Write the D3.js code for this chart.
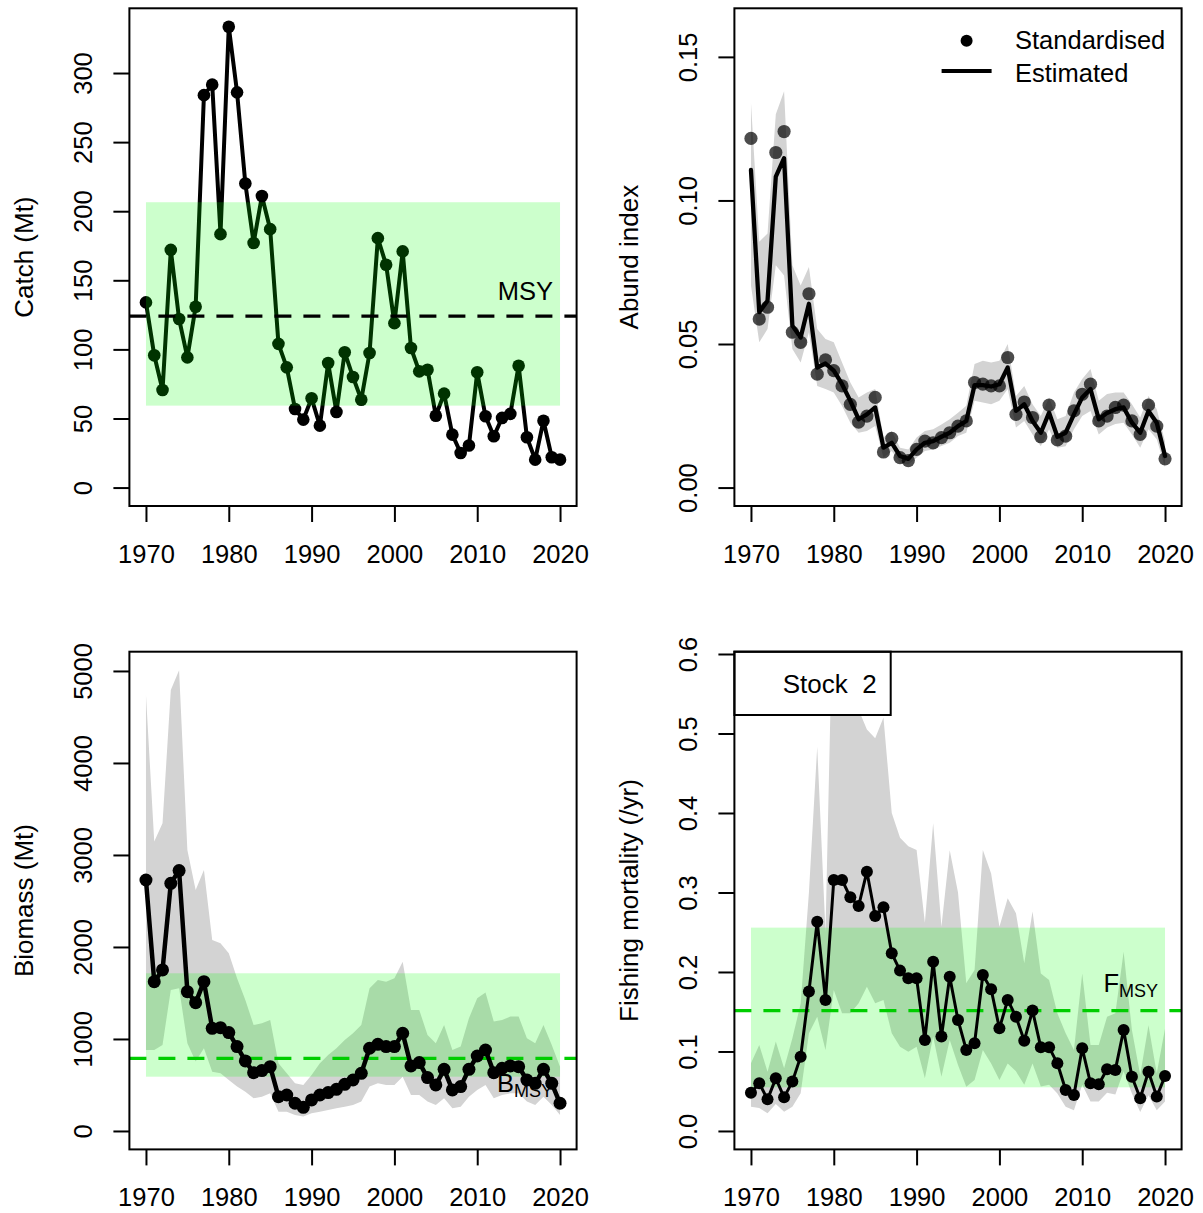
<!DOCTYPE html>
<html>
<head>
<meta charset="utf-8">
<script src="https://cdn.jsdelivr.net/npm/d3@7"></script>
<style>
  html, body { margin: 0; padding: 0; background: #fff; }
  svg { display: block; font-family: "Liberation Sans", Arial, Helvetica, sans-serif; }
</style>
</head>
<body>
<svg id="chart" width="1203" height="1213"></svg>
<script>
// ---- Data ---------------------------------------------------------------
const years = d3.range(1970, 2021);
const yearTicks = [1970, 1980, 1990, 2000, 2010, 2020];
const catchTicks = [0, 50, 100, 150, 200, 250, 300];
const indexTicks = [0, 0.05, 0.10, 0.15];
const biomassTicks = [0, 1000, 2000, 3000, 4000, 5000];
const fTicks = [0, 0.1, 0.2, 0.3, 0.4, 0.5, 0.6];

// Catch (Mt)
const catchMt = [
  134, 95.7, 70.6, 172, 122, 94.2, 130.9, 284, 291.6, 183.4,
  333.5, 286, 220, 177, 211, 187, 104, 87, 56.9, 49.2,
  64.6, 44.8, 90.1, 54.7, 97.9, 80, 63.6, 97.4, 180.5, 161.2,
  119, 170.9, 101, 84.1, 85.3, 52, 68, 38.3, 25, 30.4,
  83.4, 51.6, 37.1, 50.4, 53.3, 88.2, 36.4, 20.2, 48.4, 21.9,
  20.2
];
const msy = 124, msyLo = 59.3, msyHi = 206.5;

// Abundance index: standardised observations and model estimate with interval
const indexObs = [
  0.1216, 0.0587, 0.0628, 0.1167, 0.1240, 0.0541, 0.0506, 0.0675, 0.0395, 0.0445,
  0.0407, 0.0354, 0.0290, 0.0228, 0.0249, 0.0314, 0.0124, 0.0171, 0.0104, 0.0094,
  0.0133, 0.0162, 0.0156, 0.0174, 0.0191, 0.0214, 0.0232, 0.0366, 0.0360, 0.0354,
  0.0354, 0.0453, 0.0255, 0.0298, 0.0244, 0.0177, 0.0287, 0.0166, 0.0179, 0.0267,
  0.0325, 0.0360, 0.0232, 0.0249, 0.0279, 0.0287, 0.0232, 0.0185, 0.0287, 0.0214,
  0.0100
];
const indexEst = [
  0.1106, 0.0611, 0.0651, 0.1083, 0.1147, 0.0564, 0.0523, 0.0640, 0.0418, 0.0432,
  0.0407, 0.0360, 0.0302, 0.0238, 0.0255, 0.0279, 0.0139, 0.0156, 0.0110, 0.0100,
  0.0133, 0.0156, 0.0162, 0.0177, 0.0191, 0.0214, 0.0232, 0.0357, 0.0357, 0.0352,
  0.0360, 0.0418, 0.0267, 0.0290, 0.0232, 0.0191, 0.0261, 0.0177, 0.0191, 0.0255,
  0.0314, 0.0343, 0.0238, 0.0260, 0.0273, 0.0279, 0.0226, 0.0191, 0.0267, 0.0226,
  0.0110
];
const indexHi = [
  0.134, 0.0856, 0.0885, 0.130, 0.138, 0.0774, 0.0704, 0.0768, 0.0552, 0.0517,
  0.0506, 0.0436, 0.0366, 0.0314, 0.0331, 0.0343, 0.0174, 0.0197, 0.0139, 0.0133,
  0.0174, 0.0197, 0.0203, 0.0220, 0.0238, 0.0261, 0.0285, 0.0430, 0.0442, 0.0436,
  0.0442, 0.0500, 0.0319, 0.0354, 0.0290, 0.0249, 0.0314, 0.0238, 0.0249, 0.0331,
  0.0378, 0.0413, 0.0302, 0.0326, 0.0331, 0.0331, 0.0290, 0.0244, 0.0319, 0.0273,
  0.0160
];
const indexLo = [
  0.0704, 0.0506, 0.0552, 0.0774, 0.0739, 0.0483, 0.0436, 0.0541, 0.0354, 0.0343,
  0.0331, 0.0284, 0.0226, 0.0191, 0.0197, 0.0214, 0.0104, 0.0127, 0.0086, 0.0080,
  0.0104, 0.0127, 0.0133, 0.0145, 0.0156, 0.0180, 0.0191, 0.0302, 0.0296, 0.0290,
  0.0302, 0.0343, 0.0209, 0.0232, 0.0185, 0.0144, 0.0203, 0.0139, 0.0144, 0.0203,
  0.0249, 0.0267, 0.0185, 0.0209, 0.0221, 0.0226, 0.0185, 0.0139, 0.0203, 0.0168,
  0.0070
];

// Biomass (Mt)
const biomass = [
  2728, 1623, 1750, 2692, 2830, 1514, 1395, 1623, 1116, 1123,
  1069, 917, 761, 634, 656, 699, 373, 391, 301, 257,
  337, 391, 417, 453, 507, 554, 627, 899, 942, 917,
  917, 1062, 707, 743, 580, 500, 670, 446, 482, 670,
  815, 880, 634, 681, 707, 699, 554, 518, 670, 518,
  301
];
const biomassHi = [
  4739, 3145, 3344, 4793, 5009, 3054, 2620, 2837, 2076, 2040,
  1932, 1660, 1424, 1152, 1170, 1207, 736, 627, 518, 500,
  609, 736, 826, 899, 989, 1062, 1152, 1551, 1641, 1623,
  1660, 1840, 1315, 1315, 1043, 953, 1152, 880, 917, 1225,
  1442, 1504, 1189, 1207, 1243, 1243, 1007, 953, 1152, 935,
  699
];
const biomassLo = [
  880, 880, 935, 1533, 1551, 953, 754, 899, 645, 627,
  554, 482, 427, 355, 373, 409, 210, 210, 174, 156,
  192, 210, 228, 247, 264, 282, 319, 482, 518, 500,
  500, 590, 391, 391, 319, 282, 355, 247, 264, 373,
  446, 500, 355, 391, 409, 409, 319, 282, 373, 282,
  174
];
const bmsy = 790, bmsyLo = 590, bmsyHi = 1714;

// Fishing mortality (/yr)
const fMort = [
  0.0482, 0.0600, 0.0398, 0.0662, 0.0423, 0.0621, 0.0935, 0.1753, 0.2633, 0.1648,
  0.3157, 0.3157, 0.2939, 0.2830, 0.3262, 0.2704, 0.2813, 0.2235, 0.2017, 0.1920,
  0.1920, 0.1145, 0.2130, 0.1187, 0.1941, 0.1396, 0.1019, 0.1103, 0.1962, 0.1782,
  0.1291, 0.1648, 0.1438, 0.1136, 0.1514, 0.1052, 0.1052, 0.0851, 0.0516, 0.0453,
  0.1040, 0.0600, 0.0587, 0.0776, 0.0768, 0.1270, 0.0683, 0.0411, 0.0746, 0.0432,
  0.0692
];
const fMortHi = [
  0.0852, 0.1082, 0.0746, 0.1124, 0.0788, 0.1166, 0.160, 0.300, 0.4834, 0.250,
  0.720, 0.850, 0.750, 0.530, 0.505, 0.494, 0.520, 0.400, 0.369, 0.358,
  0.3535, 0.262, 0.387, 0.257, 0.353, 0.300, 0.186, 0.2025, 0.3535, 0.324,
  0.257, 0.2927, 0.274, 0.211, 0.276, 0.198, 0.190, 0.148, 0.123, 0.102,
  0.198, 0.108, 0.108, 0.1438, 0.148, 0.2256, 0.127, 0.0704, 0.133, 0.0726,
  0.129
];
const fMortLo = [
  0.0306, 0.0290, 0.0222, 0.0340, 0.0243, 0.0306, 0.0474, 0.1229, 0.1438, 0.1019,
  0.1774, 0.1480, 0.1480, 0.1606, 0.1815, 0.1606, 0.1648, 0.1229, 0.1060, 0.0998,
  0.1060, 0.0663, 0.1187, 0.0683, 0.1145, 0.0830, 0.0557, 0.0641, 0.1020, 0.0850,
  0.0640, 0.0850, 0.0750, 0.0580, 0.0850, 0.0560, 0.0580, 0.0470, 0.0306, 0.0260,
  0.0580, 0.0370, 0.0370, 0.0480, 0.0460, 0.0750, 0.0470, 0.0240, 0.0450, 0.0260,
  0.0370
];
const fmsy = 0.1514, fmsyLo = 0.0549, fmsyHi = 0.2558;

// ---- Layout & helpers ---------------------------------------------------
const svg = d3.select("#chart");
const FONT = 25.5;
const GREEN_FILL = "rgba(0,255,0,0.2)";
const GREEN_LINE = "#00CD00";
const GREY_FILL = "#D3D3D3";

const rows = (vals) => years.map((yr, i) => ({ year: yr, v: vals[i] }));
const bandRows = (lo, hi) => years.map((yr, i) => ({ year: yr, lo: lo[i], hi: hi[i] }));

let clipCount = 0;
function makePanel(box, ylim, yticks, yfmt, title) {
  const g = svg.append("g");
  // R-style axis ranges: data limits padded by 4% on each side
  const xr = [1970, 2020], xp = 0.04 * (xr[1] - xr[0]);
  const yp = 0.04 * (ylim[1] - ylim[0]);
  const x = d3.scaleLinear().domain([xr[0] - xp, xr[1] + xp]).range([box.x0, box.x1]);
  const y = d3.scaleLinear().domain([ylim[0] - yp, ylim[1] + yp]).range([box.y1, box.y0]);

  const id = "clip" + (clipCount++);
  svg.append("clipPath").attr("id", id).append("rect")
    .attr("x", box.x0).attr("y", box.y0)
    .attr("width", box.x1 - box.x0).attr("height", box.y1 - box.y0);
  const plot = g.append("g").attr("clip-path", `url(#${id})`);
  const top = g.append("g");

  // x axis
  const xa = g.append("g").attr("transform", `translate(0,${box.y1})`)
    .call(d3.axisBottom(x).tickValues(yearTicks).tickFormat(d3.format("d"))
      .tickSize(16).tickPadding(23));
  // y axis
  const ya = g.append("g").attr("transform", `translate(${box.x0},0)`)
    .call(d3.axisLeft(y).tickValues(yticks).tickFormat(yfmt).tickSize(16));
  [xa, ya].forEach(a => {
    a.select(".domain").remove();
    a.selectAll(".tick line").attr("stroke", "#000").attr("stroke-width", 2);
    a.selectAll(".tick text").attr("fill", "#000")
      .style("font-size", FONT + "px").style("font-family", "inherit");
  });
  ya.selectAll(".tick text")
    .attr("x", null).attr("dy", null)
    .attr("text-anchor", "middle")
    .attr("transform", "translate(-37.4,0) rotate(-90)");

  // axis title
  g.append("text")
    .attr("transform", `translate(${box.x0 - 96.4},${(box.y0 + box.y1) / 2}) rotate(-90)`)
    .attr("text-anchor", "middle")
    .style("font-size", "26px")
    .text(title);

  return { g, plot, top, x, y, box };
}

function drawBox(p) {
  p.g.append("rect")
    .attr("x", p.box.x0).attr("y", p.box.y0)
    .attr("width", p.box.x1 - p.box.x0).attr("height", p.box.y1 - p.box.y0)
    .attr("fill", "none").attr("stroke", "#000").attr("stroke-width", 2);
}

function greenBand(p, lo, hi) {
  p.plot.append("rect")
    .attr("x", p.x(1970)).attr("width", p.x(2020) - p.x(1970))
    .attr("y", p.y(hi)).attr("height", p.y(lo) - p.y(hi))
    .attr("fill", GREEN_FILL);
}

function refLine(p, v, color) {
  p.plot.append("line")
    .attr("x1", p.box.x0).attr("x2", p.box.x1)
    .attr("y1", p.y(v)).attr("y2", p.y(v))
    .attr("stroke", color).attr("stroke-width", 3.3)
    .attr("stroke-dasharray", "17,12");
}

function series(p, data, lw, r, fill) {
  p.plot.append("path").datum(data)
    .attr("d", d3.line().x(d => p.x(d.year)).y(d => p.y(d.v)))
    .attr("fill", "none").attr("stroke", "#000")
    .attr("stroke-width", lw).attr("stroke-linejoin", "round").attr("stroke-linecap", "round");
  p.plot.append("g").selectAll("circle").data(data).join("circle")
    .attr("cx", d => p.x(d.year)).attr("cy", d => p.y(d.v))
    .attr("r", r).attr("fill", fill || "#000");
}

function ciArea(p, data) {
  p.plot.append("path").datum(data)
    .attr("d", d3.area().x(d => p.x(d.year)).y0(d => p.y(d.lo)).y1(d => p.y(d.hi)))
    .attr("fill", GREY_FILL);
}

function subLabel(p, main, sub, v, dyBase) {
  const t = p.plot.append("text")
    .attr("x", p.x(2020) - 7).attr("y", p.y(v) + dyBase)
    .attr("text-anchor", "end").style("font-size", FONT + "px").attr("fill", "#000");
  t.append("tspan").text(main);
  if (sub) t.append("tspan").attr("dy", 5).style("font-size", "18px").text(sub);
}

// ---- Panel boxes -------------------------------------------------------
const leftX = { x0: 129.4, x1: 576.6 }, rightX = { x0: 734.4, x1: 1181.6 };
const topY = { y0: 8.3, y1: 506 }, botY = { y0: 651.7, y1: 1149.4 };

// ---- Catch ---------------------------------------------------------------
{
  const p = makePanel({ ...leftX, ...topY }, [0, 333.5], catchTicks, d3.format("d"), "Catch (Mt)");
  series(p, rows(catchMt), 4, 6.3);
  greenBand(p, msyLo, msyHi);
  refLine(p, msy, "#000");
  subLabel(p, "MSY", null, msy, -16);
  drawBox(p);
}

// ---- Abundance index ----------------------------------------------------
{
  const p = makePanel({ ...rightX, ...topY }, [0, 0.1605], indexTicks, d3.format(".2f"), "Abund index");
  ciArea(p, bandRows(indexLo, indexHi));
  p.plot.append("g").selectAll("circle").data(rows(indexObs)).join("circle")
    .attr("cx", d => p.x(d.year)).attr("cy", d => p.y(d.v))
    .attr("r", 6.6).attr("fill", "rgba(0,0,0,0.7)");
  p.plot.append("path").datum(rows(indexEst))
    .attr("d", d3.line().x(d => p.x(d.year)).y(d => p.y(d.v)))
    .attr("fill", "none").attr("stroke", "#000").attr("stroke-width", 4.3)
    .attr("stroke-linejoin", "round").attr("stroke-linecap", "round");

  // legend
  const lx = p.box.x1, ly = p.box.y0;
  const leg = p.g.append("g");
  leg.append("circle").attr("cx", lx - 215).attr("cy", ly + 32.4).attr("r", 6).attr("fill", "#000");
  leg.append("line").attr("x1", lx - 240).attr("x2", lx - 190)
    .attr("y1", ly + 62.7).attr("y2", ly + 62.7).attr("stroke", "#000").attr("stroke-width", 4);
  leg.append("text").attr("x", lx - 166.6).attr("y", ly + 41).style("font-size", FONT + "px").text("Standardised");
  leg.append("text").attr("x", lx - 166.6).attr("y", ly + 73.4).style("font-size", FONT + "px").text("Estimated");
  drawBox(p);
}

// ---- Biomass -------------------------------------------------------------
{
  const p = makePanel({ ...leftX, ...botY }, [0, 5009], biomassTicks, d3.format("d"), "Biomass (Mt)");
  ciArea(p, bandRows(biomassLo, biomassHi));
  greenBand(p, bmsyLo, bmsyHi);
  refLine(p, bmsy, GREEN_LINE);
  subLabel(p, "B", "MSY", bmsy, 34);
  series(p, rows(biomass), 4.5, 6.5);
  drawBox(p);
}

// ---- Fishing mortality ---------------------------------------------------
{
  const p = makePanel({ ...rightX, ...botY }, [0, 0.5797], fTicks, d3.format(".1f"), "Fishing mortality (/yr)");
  ciArea(p, bandRows(fMortLo, fMortHi));
  greenBand(p, fmsyLo, fmsyHi);
  refLine(p, fmsy, GREEN_LINE);
  subLabel(p, "F", "MSY", fmsy, -19);
  series(p, rows(fMort), 3, 6);

  // stock legend box
  const b = p.box;
  p.g.append("rect").attr("x", b.x0).attr("y", b.y0)
    .attr("width", 156.3).attr("height", 63.3)
    .attr("fill", "#fff").attr("stroke", "#000").attr("stroke-width", 2);
  p.g.append("text").attr("x", b.x0 + 142.3).attr("y", b.y0 + 41.3)
    .attr("text-anchor", "end").style("font-size", "26px").text("Stock \u00A02");
  drawBox(p);
}
</script>
</body>
</html>
